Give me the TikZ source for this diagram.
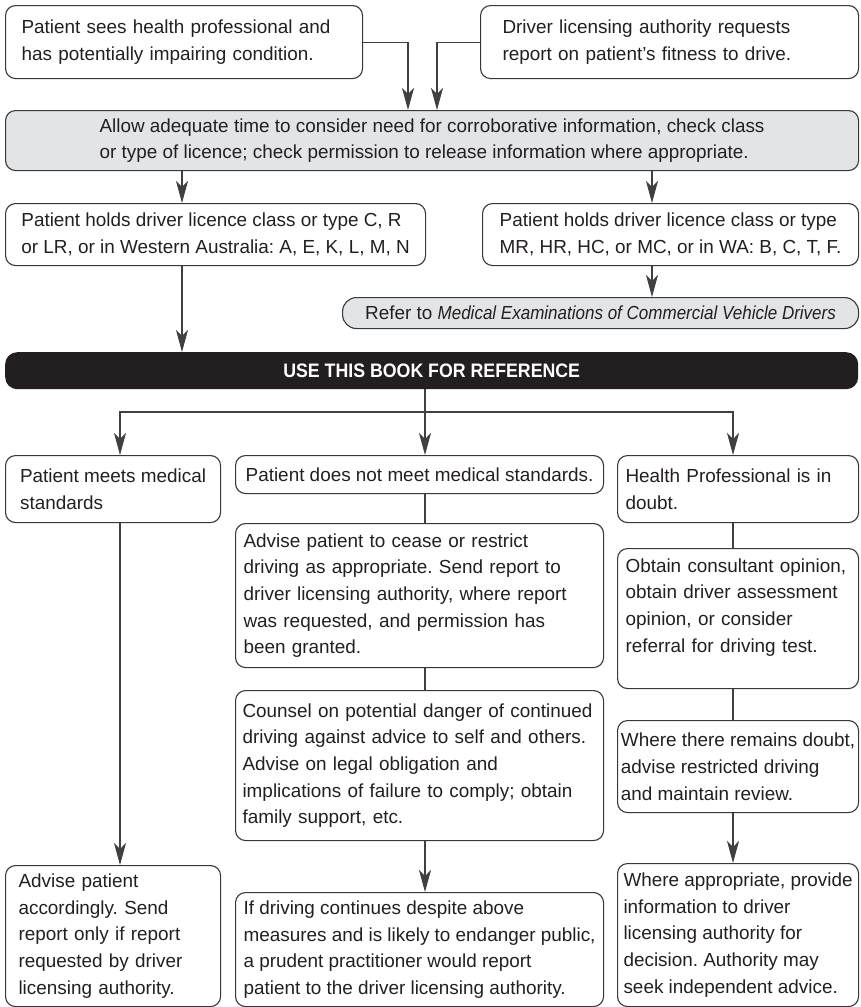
\documentclass[tikz,border=0pt]{standalone}
\usepackage{fontspec}
\setmainfont{Liberation Sans}
\newfontfamily\bannerfont{Liberation Sans}[FakeStretch=0.91]
\newfontfamily\titlefont{Liberation Sans}[FakeStretch=0.9]
\usetikzlibrary{arrows.meta}
\frenchspacing
\definecolor{ink}{HTML}{231F20}
\definecolor{edge}{HTML}{383838}
\definecolor{wire}{HTML}{404040}
\definecolor{shade}{HTML}{E3E4E6}
\tikzset{
  >={Stealth[length=22pt,width=12pt,inset=6pt]},
  every node/.style={font=\fontsize{18.9}{26.7}\selectfont,text=ink},
  box/.style={draw=edge,line width=1.1pt,rounded corners=10pt,anchor=north west,align=left,inner xsep=3pt,inner ysep=0pt},
  greybox/.style={box,fill=shade},
  pill/.style={draw=edge,line width=1.1pt,fill=shade,rounded corners=14pt,anchor=north west,inner sep=0pt},
  banner/.style={fill=ink,rounded corners=12pt,anchor=north west,inner sep=0pt,text=white,font=\bannerfont\bfseries\fontsize{19.5}{22}\selectfont},
  arrow/.style={->,line width=1.1pt,draw=wire},
  link/.style={line width=1.1pt,draw=wire},
}

\begin{document}
\begin{tikzpicture}[x=1pt,y=-1pt]
\useasboundingbox (0,0) rectangle (860,1007);

\node[box,inner xsep=16pt,text width=325pt,minimum height=73pt] (pat) at (5,5) {Patient sees health professional and\\has potentially impairing condition.};
\node[box,inner xsep=22pt,text width=334pt,minimum height=73pt] (dla) at (480,5) {Driver licensing authority requests\\report on patient’s fitness to drive.};
\node[greybox,minimum width=853pt,minimum height=60pt] (allow) at (5,110) {Allow adequate time to consider need for corroborative information, check class\\or type of licence; check permission to release information where appropriate.};
\node[box,minimum width=420pt,minimum height=62pt] (lic1) at (5,203) {Patient holds driver licence class or type C, R\\or LR, or in Western Australia: A, E, K, L, M, N};
\node[box,minimum width=376pt,minimum height=62pt] (lic2) at (482,203) {Patient holds driver licence class or type\\MR, HR, HC, or MC, or in WA: B, C, T, F.};
\node[pill,minimum width=516pt,minimum height=31pt] (refer) at (342,297) {Refer to {\titlefont\itshape Medical Examinations of Commercial Vehicle Drivers}};
\node[banner,minimum width=853pt,minimum height=37pt] (bar) at (5,352) {USE THIS BOOK FOR REFERENCE};

\node[box,minimum width=215pt,minimum height=67pt] (meets) at (5,455) {Patient meets medical\\standards};
\node[box,minimum width=368pt,minimum height=38pt] (notmeet) at (235,455) {Patient does not meet medical standards.};
\node[box,inner xsep=8pt,text width=225pt,minimum height=67pt] (doubt) at (617,455) {Health Professional is in\\doubt.};
\node[box,inner xsep=8pt,text width=352pt,minimum height=144pt] (advise) at (235,523) {Advise patient to cease or restrict\\driving as appropriate. Send report to\\driver licensing authority, where report\\was requested, and permission has\\been granted.};
\node[box,inner xsep=7pt,text width=354pt,minimum height=150pt] (counsel) at (235,690) {Counsel on potential danger of continued\\driving against advice to self and others.\\Advise on legal obligation and\\implications of failure to comply; obtain\\family support, etc.};
\node[box,inner xsep=8pt,text width=225pt,minimum height=140pt] (obtain) at (617,548) {Obtain consultant opinion,\\obtain driver assessment\\opinion, or consider\\referral for driving test.\\\mbox{}};
\node[box,minimum width=241pt,minimum height=92pt] (remains) at (617,720) {Where there remains doubt,\\advise restricted driving\\and maintain review.};
\node[box,inner xsep=13pt,text width=189pt,minimum height=141pt] (advpat) at (5,865) {Advise patient\\accordingly. Send\\report only if report\\requested by driver\\licensing authority.};
\node[box,minimum width=368pt,minimum height=114pt] (ifdriving) at (235,892) {If driving continues despite above\\measures and is likely to endanger public,\\a prudent practitioner would report\\patient to the driver licensing authority.};
\node[box,minimum width=241pt,minimum height=143pt] (inform) at (617,863) {Where appropriate, provide\\information to driver\\licensing authority for\\decision. Authority may\\seek independent advice.};

\coordinate (cA) at (408,0);
\coordinate (cB) at (437,0);
\coordinate (c1) at (182,0);
\coordinate (c2) at (652,0);
\coordinate (cL) at (120,0);
\coordinate (cM) at (425,0);
\coordinate (cR) at (733,0);
\coordinate (fork) at (425,412);

\draw[arrow] (pat.east) -| (allow.north -| cA);
\draw[arrow] (dla.west) -| (allow.north -| cB);
\draw[arrow] (allow.south -| c1) -- (lic1.north -| c1);
\draw[arrow] (allow.south -| c2) -- (lic2.north -| c2);
\draw[arrow] (lic1.south -| c1) -- (bar.north -| c1);
\draw[arrow] (lic2.south -| c2) -- (refer.north -| c2);
\draw[arrow] (bar.south -| cM) -- (notmeet.north -| cM);
\draw[arrow] (fork) -| (meets.north -| cL);
\draw[arrow] (fork) -| (doubt.north -| cR);
\draw[link] (notmeet.south -| cM) -- (advise.north -| cM);
\draw[link] (advise.south -| cM) -- (counsel.north -| cM);
\draw[arrow] (counsel.south -| cM) -- (ifdriving.north -| cM);
\draw[arrow] (meets.south -| cL) -- (advpat.north -| cL);
\draw[link] (doubt.south -| cR) -- (obtain.north -| cR);
\draw[link] (obtain.south -| cR) -- (remains.north -| cR);
\draw[arrow] (remains.south -| cR) -- (inform.north -| cR);

\end{tikzpicture}
\end{document}
